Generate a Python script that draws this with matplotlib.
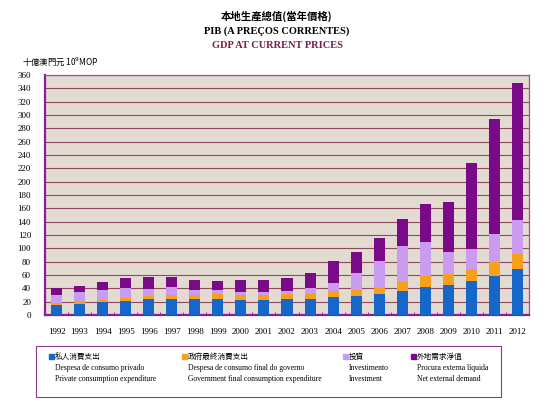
import matplotlib.pyplot as plt
from matplotlib.patches import Rectangle
import numpy as np

years = [str(y) for y in range(1992, 2013)]

# 10^9 MOP
private_consumption = [14.5, 16.5, 19.5, 20.5, 24, 24, 24, 24, 22.5, 22.5, 23.5,
                       23.5, 26.5, 29, 31.5, 36.5, 42.5, 45, 50.5, 59, 68.5]
government_consumption = [4, 4, 3.5, 5.5, 5, 5.5, 5.5, 7, 7.5, 7, 7.5,
                          8, 9, 9, 9.5, 13, 15.5, 16.5, 18, 20.5, 23.5]
investment = [11.5, 14, 15, 15, 10.5, 12, 8, 6.5, 4.5, 5, 5,
              8.5, 12, 25, 40.5, 53.5, 51.5, 32.5, 30.5, 42, 51]
net_external = [10, 9.5, 11, 14, 17, 15, 15.5, 13, 17.5, 18.5, 19,
                23, 33.5, 31, 34.5, 41.5, 57, 76, 128.5, 173, 205.5]

series = [private_consumption, government_consumption, investment, net_external]
colors = ["#1766c9", "#f6a01c", "#c99cf0", "#7b0a88"]
legend_zh = ["私人消費支出", "政府最終消費支出", "投資", "外地需求淨值"]
legend_pt = ["Despesa de consumo privado", "Despesa de consumo final do governo",
             "Investimento", "Procura externa líquida"]
legend_en = ["Private consumption expenditure", "Government final consumption expenditure",
             "Investment", "Net external demand"]

serif = ["Liberation Serif", "Noto Sans CJK TC"]
cjk = ["Noto Sans CJK TC", "Liberation Serif"]

fig = plt.figure(figsize=(5.54, 4.03), dpi=100)
fig.patch.set_facecolor("white")
ax = fig.add_axes([45 / 554, 1 - 315 / 403, 484 / 554, 240 / 403])
ax.set_facecolor("#e3dbd1")

x = np.arange(len(years))
bottom = np.zeros(len(years))
for vals, c in zip(series, colors):
    ax.bar(x, vals, width=0.48, bottom=bottom, color=c, zorder=3)
    bottom += np.array(vals)

ax.set_xlim(-0.5, len(years) - 0.5)
ax.set_ylim(0, 360)
ax.set_yticks(range(0, 361, 20))
ax.yaxis.grid(True, color="#8e4a5e", linewidth=0.8, zorder=1)
ax.set_axisbelow(True)

for s in ax.spines.values():
    s.set_color("#a548a8")
    s.set_linewidth(0.9)
ax.spines["left"].set_color("#8a1e96")
ax.spines["left"].set_linewidth(1.6)
ax.spines["bottom"].set_color("#8a1e96")
ax.spines["bottom"].set_linewidth(1.6)

ax.set_xticks(x)
ax.set_xticklabels(years, family=serif, fontsize=6.5)
ax.set_xticks(x[:-1] + 0.5, minor=True)
ax.tick_params(axis="x", which="major", length=0, pad=9)
ax.tick_params(axis="x", which="minor", direction="in", length=2.5, color="#8a1e96")
ax.tick_params(axis="y", length=0, pad=10)
for lab in ax.get_yticklabels():
    lab.set_family(serif)
    lab.set_fontsize(6.5)

# titles
fig.text(277 / 554, 1 - 16 / 403, "本地生產總值(當年價格)", family=cjk, fontsize=7.5,
         fontweight="bold", ha="center", va="center")
fig.text(277 / 554, 1 - 31 / 403, "PIB (A PREÇOS CORRENTES)", family=serif, fontsize=7.5,
         fontweight="bold", ha="center", va="center")
fig.text(277 / 554, 1 - 45 / 403, "GDP AT CURRENT PRICES", family=serif, fontsize=7.5,
         fontweight="bold", ha="center", va="center", color="#7a1d4a")
fig.text(22 / 554, 1 - 62 / 403, "十億澳門元 10$^9$MOP", family=cjk, fontsize=6,
         ha="left", va="center")

# legend box
fig.patches.append(Rectangle((36 / 554, 1 - 397 / 403), 465 / 554, 51 / 403,
                             transform=fig.transFigure, fill=False,
                             edgecolor="#8a3a8a", linewidth=0.8))
col_x = [49, 182, 343, 411]
for cx, c, zh, pt, en in zip(col_x, colors, legend_zh, legend_pt, legend_en):
    fig.patches.append(Rectangle((cx / 554, 1 - 359 / 403), 5 / 554, 5 / 403,
                                 transform=fig.transFigure, color=c))
    fig.text((cx + 6) / 554, 1 - 356.5 / 403, zh, family=cjk, fontsize=5.5,
             ha="left", va="center")
    fig.text((cx + 6) / 554, 1 - 368 / 403, pt, family=serif, fontsize=5.5,
             ha="left", va="center")
    fig.text((cx + 6) / 554, 1 - 379 / 403, en, family=serif, fontsize=5.5,
             ha="left", va="center")

fig.savefig("out.png", dpi=100)
